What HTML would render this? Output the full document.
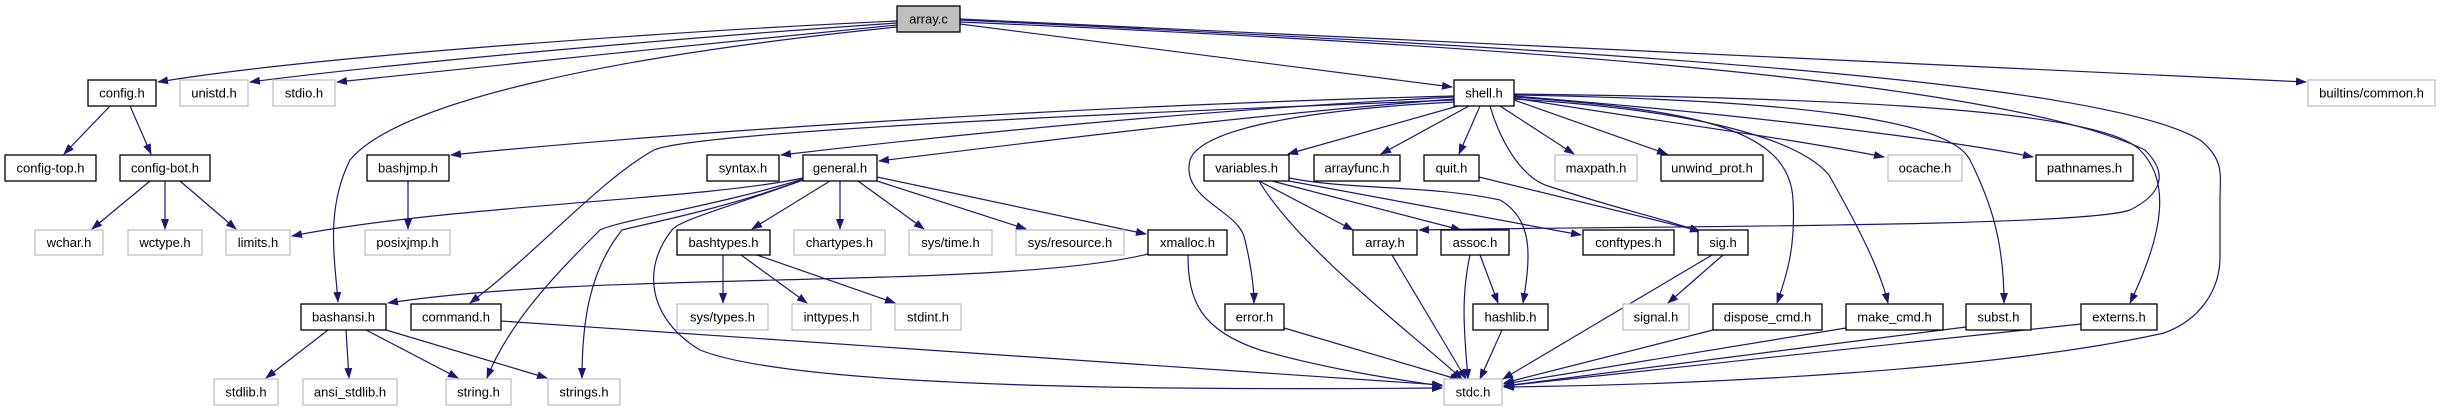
<!DOCTYPE html>
<html><head><meta charset="utf-8"><style>
html,body{margin:0;padding:0;background:#fff;width:2448px;height:411px;overflow:hidden}
svg{display:block}
text{font-family:"Liberation Sans",sans-serif;font-size:13px;fill:#000}
.b{fill:#fff;stroke:#000;stroke-width:1.3}
.g{fill:#fff;stroke:#bfbfbf;stroke-width:1.3}
.e{fill:none;stroke:#191970;stroke-width:1.2}
</style></head><body>
<svg width="2448" height="411" viewBox="0 0 2448 411" xmlns="http://www.w3.org/2000/svg">
<defs><marker id="a" markerWidth="11" markerHeight="8" refX="10" refY="4" orient="auto" markerUnits="userSpaceOnUse"><path d="M0,0 L11,4 L0,8 z" fill="#191970"/></marker></defs>
<g class="e" marker-end="url(#a)">
<!-- array.c -->
<path d="M897,21 C700,30 320,55 158,82"/>
<path d="M897,23 C720,35 420,60 250,82"/>
<path d="M897,25 C740,40 500,65 337,82"/>
<path d="M897,27 C620,55 400,100 350,160 C325,210 335,260 338,302"/>
<path d="M960,24 L1452,87"/>
<path d="M960,19 L2306,82"/>
<path d="M960,22 C1500,45 2000,80 2145,150 C2170,175 2160,195 2130,210 C2080,228 1600,226 1419,230"/>
<path d="M960,20 C1600,50 2100,80 2200,140 C2225,160 2220,175 2220,200 L2220,257 C2220,290 2200,320 2164,333 C2000,370 1700,385 1504,387"/>
<!-- shell.h -->
<path d="M1454,96 C1100,105 700,130 451,155"/>
<path d="M1454,97 C1200,110 950,135 781,155"/>
<path d="M1454,99 C1250,115 1050,140 879,161"/>
<path d="M1454,100 C1200,110 700,130 654,150 C600,180 540,250 470,303"/>
<path d="M1454,102 C1300,110 1200,130 1190,160 C1180,200 1240,210 1245,240 C1252,270 1254,290 1254,303"/>
<path d="M1458,106 L1288,154"/>
<path d="M1469,106 L1381,154"/>
<path d="M1480,106 L1459,154"/>
<path d="M1500,106 L1574,154"/>
<path d="M1514,100 L1667,154"/>
<path d="M1514,98 C1650,120 1800,140 1884,157"/>
<path d="M1514,96 C1750,115 1950,140 2033,157"/>
<path d="M1514,97 C1700,110 1790,130 1793,200 C1796,250 1785,280 1777,303"/>
<path d="M1514,99 C1700,110 1800,140 1829,175 C1860,230 1880,270 1888,303"/>
<path d="M1514,95 C1800,100 1950,120 1970,160 C1990,200 2004,240 2004,303"/>
<path d="M1514,94 C1850,98 2100,110 2140,150 C2170,180 2165,230 2130,303"/>
<path d="M1490,106 C1500,140 1520,175 1545,185 C1620,210 1670,220 1700,232"/>
<!-- config -->
<path d="M110,106 L64,154"/>
<path d="M130,106 L151,154"/>
<path d="M150,181 L92,229"/>
<path d="M165,181 L165,229"/>
<path d="M180,181 L236,229"/>
<path d="M408,181 L408,229"/>
<!-- general.h -->
<path d="M803,178 C700,200 450,205 292,236"/>
<path d="M830,181 L752,229"/>
<path d="M840,181 L840,229"/>
<path d="M858,181 L924,229"/>
<path d="M877,181 L1026,229"/>
<path d="M877,177 L1146,234"/>
<path d="M803,179 C720,205 620,220 600,230 C560,270 510,320 487,378"/>
<path d="M803,180 C720,210 640,225 622,230 C590,270 582,320 582,378"/>
<path d="M803,180 C720,210 680,220 672,230 C640,270 650,320 700,350 C800,390 1200,390 1442,388"/>
<!-- bashtypes -->
<path d="M723,255 L723,303"/>
<path d="M741,255 L807,303"/>
<path d="M757,255 L895,303"/>
<!-- xmalloc -->
<path d="M1148,254 C1000,290 600,270 388,303"/>
<path d="M1188,255 C1188,300 1200,330 1260,350 C1330,370 1400,380 1442,386"/>
<!-- bashansi -->
<path d="M328,330 L266,378"/>
<path d="M346,330 L349,378"/>
<path d="M366,330 L458,378"/>
<path d="M386,330 L547,378"/>
<path d="M501,321 L1442,385"/>
<!-- variables -->
<path d="M1259,181 L1353,230"/>
<path d="M1272,181 L1461,230"/>
<path d="M1289,181 L1581,235"/>
<path d="M1289,178 C1350,190 1430,185 1500,200 C1535,220 1530,260 1523,303"/>
<path d="M1259,181 C1300,250 1420,340 1462,379"/>
<path d="M1479,177 L1700,231"/>
<!-- to stdc -->
<path d="M1392,255 L1466,379"/>
<path d="M1470,255 C1460,300 1465,340 1468,379"/>
<path d="M1480,255 L1498,303"/>
<path d="M1502,330 L1480,379"/>
<path d="M1284,328 L1460,380"/>
<path d="M1712,255 L1503,379"/>
<path d="M1723,255 L1668,303"/>
<path d="M1713,330 L1504,383"/>
<path d="M1846,328 L1504,384"/>
<path d="M1966,327 L1504,386"/>
<path d="M2081,324 L1504,386"/>
</g>
<!-- nodes -->
<g>
<rect class="b" x="897" y="6" width="63" height="26" style="fill:#bfbfbf"/><text x="928.5" y="23.5" text-anchor="middle">array.c</text>
<rect class="b" x="88" y="80" width="68" height="26"/><text x="122" y="97.5" text-anchor="middle">config.h</text>
<rect class="g" x="180" y="80" width="68" height="26"/><text x="214" y="97.5" text-anchor="middle">unistd.h</text>
<rect class="g" x="273" y="80" width="62" height="26"/><text x="304" y="97.5" text-anchor="middle">stdio.h</text>
<rect class="b" x="1454" y="80" width="60" height="26"/><text x="1484" y="97.5" text-anchor="middle">shell.h</text>
<rect class="g" x="2308" y="80" width="127" height="26"/><text x="2371.5" y="97.5" text-anchor="middle">builtins/common.h</text>

<rect class="b" x="5" y="155" width="91" height="26"/><text x="50.5" y="172.5" text-anchor="middle">config-top.h</text>
<rect class="b" x="120" y="155" width="90" height="26"/><text x="165" y="172.5" text-anchor="middle">config-bot.h</text>
<rect class="b" x="367" y="155" width="82" height="26"/><text x="408" y="172.5" text-anchor="middle">bashjmp.h</text>
<rect class="b" x="707" y="155" width="72" height="26"/><text x="743" y="172.5" text-anchor="middle">syntax.h</text>
<rect class="b" x="803" y="155" width="74" height="26"/><text x="840" y="172.5" text-anchor="middle">general.h</text>
<rect class="b" x="1204" y="155" width="85" height="26"/><text x="1246.5" y="172.5" text-anchor="middle">variables.h</text>
<rect class="b" x="1314" y="155" width="86" height="26"/><text x="1357" y="172.5" text-anchor="middle">arrayfunc.h</text>
<rect class="b" x="1424" y="155" width="55" height="26"/><text x="1451.5" y="172.5" text-anchor="middle">quit.h</text>
<rect class="g" x="1555" y="155" width="82" height="26"/><text x="1596" y="172.5" text-anchor="middle">maxpath.h</text>
<rect class="b" x="1661" y="155" width="102" height="26"/><text x="1712" y="172.5" text-anchor="middle">unwind_prot.h</text>
<rect class="g" x="1888" y="155" width="74" height="26"/><text x="1925" y="172.5" text-anchor="middle">ocache.h</text>
<rect class="b" x="2036" y="155" width="97" height="26"/><text x="2084.5" y="172.5" text-anchor="middle">pathnames.h</text>

<rect class="g" x="35" y="230" width="68" height="25"/><text x="69" y="247" text-anchor="middle">wchar.h</text>
<rect class="g" x="128" y="230" width="74" height="25"/><text x="165" y="247" text-anchor="middle">wctype.h</text>
<rect class="g" x="226" y="230" width="64" height="25"/><text x="258" y="247" text-anchor="middle">limits.h</text>
<rect class="g" x="365" y="230" width="85" height="25"/><text x="407.5" y="247" text-anchor="middle">posixjmp.h</text>
<rect class="b" x="677" y="230" width="93" height="25"/><text x="723.5" y="247" text-anchor="middle">bashtypes.h</text>
<rect class="g" x="794" y="230" width="91" height="25"/><text x="839.5" y="247" text-anchor="middle">chartypes.h</text>
<rect class="g" x="909" y="230" width="83" height="25"/><text x="950.5" y="247" text-anchor="middle">sys/time.h</text>
<rect class="g" x="1016" y="230" width="108" height="25"/><text x="1070" y="247" text-anchor="middle">sys/resource.h</text>
<rect class="b" x="1148" y="230" width="79" height="25"/><text x="1187.5" y="247" text-anchor="middle">xmalloc.h</text>
<rect class="b" x="1353" y="230" width="64" height="25"/><text x="1385" y="247" text-anchor="middle">array.h</text>
<rect class="b" x="1441" y="230" width="68" height="25"/><text x="1475" y="247" text-anchor="middle">assoc.h</text>
<rect class="b" x="1583" y="230" width="91" height="25"/><text x="1628.5" y="247" text-anchor="middle">conftypes.h</text>
<rect class="b" x="1698" y="230" width="50" height="25"/><text x="1723" y="247" text-anchor="middle">sig.h</text>

<rect class="b" x="301" y="304" width="85" height="26"/><text x="343.5" y="321.5" text-anchor="middle">bashansi.h</text>
<rect class="b" x="411" y="304" width="90" height="26"/><text x="456" y="321.5" text-anchor="middle">command.h</text>
<rect class="g" x="677" y="304" width="91" height="26"/><text x="722.5" y="321.5" text-anchor="middle">sys/types.h</text>
<rect class="g" x="792" y="304" width="79" height="26"/><text x="831.5" y="321.5" text-anchor="middle">inttypes.h</text>
<rect class="g" x="895" y="304" width="66" height="26"/><text x="928" y="321.5" text-anchor="middle">stdint.h</text>
<rect class="b" x="1225" y="304" width="59" height="26"/><text x="1254.5" y="321.5" text-anchor="middle">error.h</text>
<rect class="b" x="1473" y="304" width="75" height="26"/><text x="1510.5" y="321.5" text-anchor="middle">hashlib.h</text>
<rect class="g" x="1623" y="304" width="66" height="26"/><text x="1656" y="321.5" text-anchor="middle">signal.h</text>
<rect class="b" x="1713" y="304" width="109" height="26"/><text x="1767.5" y="321.5" text-anchor="middle">dispose_cmd.h</text>
<rect class="b" x="1846" y="304" width="97" height="26"/><text x="1894.5" y="321.5" text-anchor="middle">make_cmd.h</text>
<rect class="b" x="1966" y="304" width="65" height="26"/><text x="1998.5" y="321.5" text-anchor="middle">subst.h</text>
<rect class="b" x="2081" y="304" width="76" height="26"/><text x="2119" y="321.5" text-anchor="middle">externs.h</text>

<rect class="g" x="214" y="379" width="64" height="26"/><text x="246" y="396.5" text-anchor="middle">stdlib.h</text>
<rect class="g" x="303" y="379" width="94" height="26"/><text x="350" y="396.5" text-anchor="middle">ansi_stdlib.h</text>
<rect class="g" x="446" y="379" width="65" height="26"/><text x="478.5" y="396.5" text-anchor="middle">string.h</text>
<rect class="g" x="548" y="379" width="72" height="26"/><text x="584" y="396.5" text-anchor="middle">strings.h</text>
<rect class="g" x="1444" y="379" width="58" height="26"/><text x="1473" y="396.5" text-anchor="middle">stdc.h</text>
</g>
</svg>
</body></html>
